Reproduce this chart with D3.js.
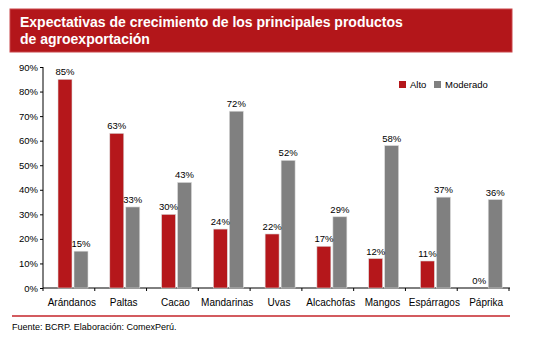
<!DOCTYPE html>
<html lang="es">
<head>
<meta charset="utf-8">
<title>Expectativas de crecimiento</title>
<script src="https://cdn.jsdelivr.net/npm/d3@7"></script>
<style>
  body { margin: 0; background: #fff; }
  text { font-family: "Liberation Sans", Arial, sans-serif; }
</style>
</head>
<body>
<svg width="551" height="338"></svg>
<script>
var categorias = ["Arándanos", "Paltas", "Cacao", "Mandarinas", "Uvas", "Alcachofas", "Mangos", "Espárragos", "Páprika"];
var alto = [85, 63, 30, 24, 22, 17, 12, 11, 0];
var moderado = [15, 33, 43, 72, 52, 29, 58, 37, 36];
var yTicks = [0, 10, 20, 30, 40, 50, 60, 70, 80, 90];
var series = ["Alto", "Moderado"];
var colores = ["#b5171b", "#808080"];

var svg = d3.select("svg");
var plotL = 43, plotR = 509, plotT = 67, plotB = 288;

// title box
svg.append("rect").attr("x", 10).attr("y", 9).attr("width", 502).attr("height", 43)
    .attr("fill", "#b3161a").attr("stroke", "#c9474a").attr("stroke-width", 1);
svg.append("text").attr("x", 20).attr("y", 27).attr("fill", "#fff")
    .attr("font-size", "14px").attr("font-weight", "bold")
    .text("Expectativas de crecimiento de los principales productos");
svg.append("text").attr("x", 20).attr("y", 44).attr("fill", "#fff")
    .attr("font-size", "14px").attr("font-weight", "bold")
    .text("de agroexportación");

var x = d3.scaleBand().domain(categorias).range([plotL, plotR]);
var y = d3.scaleLinear().domain([0, 90]).range([plotB, plotT]);

var data = categorias.map(function(c, i) {
    return { cat: c, vals: [alto[i], moderado[i]] };
});

// y axis
var yAxis = svg.append("g").attr("transform", "translate(" + plotL + ",0)")
    .call(d3.axisLeft(y).tickValues(yTicks).tickSize(3).tickFormat(function(d) { return d + "%"; }));
yAxis.select(".domain").attr("stroke", "#000").attr("d", "M0," + plotT + "V" + plotB);
yAxis.selectAll("text").attr("font-size", "9.5px").attr("fill", "#000")
    .style("font-family", "'Liberation Sans', Arial, sans-serif").attr("x", -5);

// x axis
var xAxis = svg.append("g").attr("transform", "translate(0," + plotB + ")");
xAxis.append("line").attr("x1", plotL).attr("x2", plotR + 1).attr("stroke", "#000");
xAxis.selectAll(".tk").data(d3.range(categorias.length + 1)).enter().append("line")
    .attr("x1", function(i) { return plotL + i * x.step(); })
    .attr("x2", function(i) { return plotL + i * x.step(); })
    .attr("y1", 0).attr("y2", 3).attr("stroke", "#000");
xAxis.selectAll(".lbl").data(categorias).enter().append("text")
    .attr("x", function(d) { return x(d) + x.bandwidth() / 2 + 3; })
    .attr("y", 18).attr("text-anchor", "middle").attr("font-size", "10px")
    .text(function(d) { return d; });

// bars
var barW = 14, gap = 2;
var grp = svg.selectAll(".grp").data(data).enter().append("g")
    .attr("transform", function(d) { return "translate(" + (x(d.cat) + 15) + ",0)"; });

grp.selectAll("rect").data(function(d) { return d.vals; }).enter().append("rect")
    .attr("x", function(v, j) { return j * (barW + gap); })
    .attr("y", function(v) { return y(v); })
    .attr("width", barW)
    .attr("height", function(v) { return plotB - y(v); })
    .attr("fill", function(v, j) { return colores[j]; })
    .attr("stroke", "#ddd").attr("stroke-width", 0.6);

grp.selectAll(".val").data(function(d) { return d.vals; }).enter().append("text")
    .attr("x", function(v, j) { return j * (barW + gap) + barW / 2; })
    .attr("y", function(v) { return y(v) - 4; })
    .attr("text-anchor", "middle").attr("font-size", "9.5px")
    .text(function(v) { return v + "%"; });

// legend
var leg = svg.selectAll(".leg").data(series).enter().append("g")
    .attr("transform", function(d, i) { return "translate(" + (399 + i * 35) + ",81)"; });
leg.append("rect").attr("width", 7).attr("height", 7)
    .attr("fill", function(d, i) { return colores[i]; });
leg.append("text").attr("x", 11).attr("y", 7).attr("font-size", "9.5px").text(function(d) { return d; });

// footer
svg.append("line").attr("x1", 12).attr("x2", 510).attr("y1", 316).attr("y2", 316)
    .attr("stroke", "#c4242a").attr("stroke-width", 1.5);
svg.append("text").attr("x", 12).attr("y", 330).attr("font-size", "9px")
    .text("Fuente: BCRP. Elaboración: ComexPerú.");
</script>
</body>
</html>
